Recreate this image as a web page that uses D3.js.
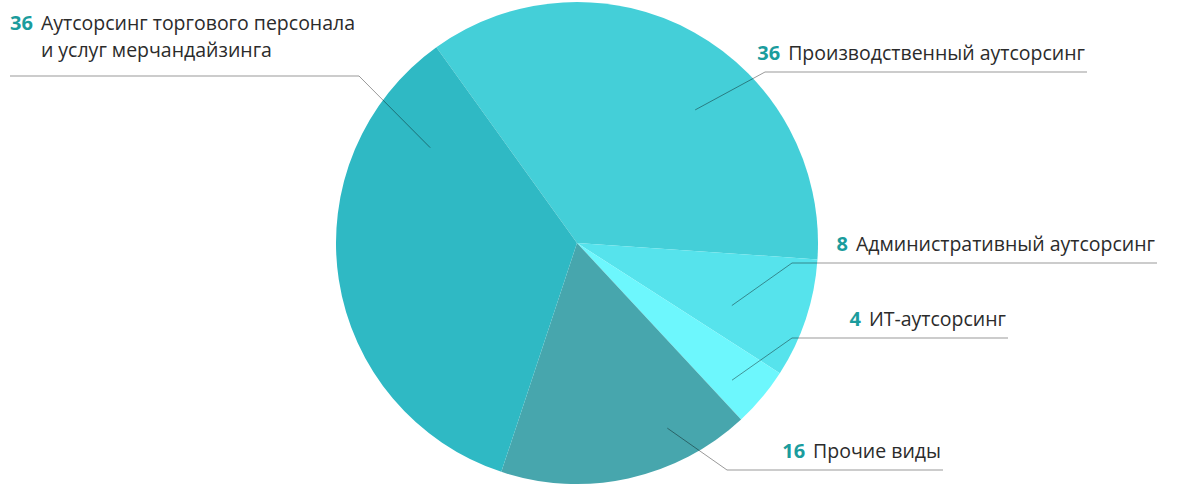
<!DOCTYPE html>
<meta charset="utf-8">
<style>

body {
  margin: 0;
  background: #fff;
}

text {
  font-family: "Open Sans", sans-serif;
  font-size: 19.5px;
  fill: #2b2b2b;
}

.num {
  font-weight: bold;
  font-size: 20px;
  fill: #1b9c9d;
}

.leader {
  fill: none;
  stroke: #000;
  stroke-opacity: .4;
  stroke-width: 1;
}

</style>
<svg width="1200" height="493"></svg>
<script src="https://d3js.org/d3.v7.min.js"></script>
<script>

// slices, clockwise from the upper-left boundary
var names = [
  "Производственный аутсорсинг",
  "Административный аутсорсинг",
  "ИТ-аутсорсинг",
  "Прочие виды",
  "Аутсорсинг торгового персонала|и услуг мерчандайзинга"
];
var labelValues = [36, 8, 4, 16, 36];       // numbers printed next to the labels
var shares = [36, 8, 4, 17, 35];            // slice sizes
var colors = ["#44cfd8", "#56e3ec", "#6df7fd", "#47a6ad", "#2fb9c4"];

// leader lines: tip inside the slice (deg, radius), elbow, end of the horizontal
var leaders = [
  {tip: [41.6, 178], elbow: [765, 72],  end: 1087},
  {tip: [112, 167],  elbow: [792, 263], end: 1157},
  {tip: [131.5, 207], elbow: [792, 338], end: 1008},
  {tip: [154, 206],  elbow: [727, 470], end: 943},
  {tip: [-57, 175],  elbow: [359, 76],  end: 10}
];

var svg = d3.select("svg"),
    cx = 577,
    cy = 243,
    radius = 241;

var g = svg.append("g").attr("transform", "translate(" + cx + "," + cy + ")");

var start = -35.7 * Math.PI / 180;

var pie = d3.pie()
    .sort(null)
    .value(function(d) { return d; })
    .startAngle(start)
    .endAngle(start + 2 * Math.PI);

var arc = d3.arc().innerRadius(0).outerRadius(radius);

g.selectAll("path.slice")
  .data(pie(shares))
  .enter().append("path")
    .attr("class", "slice")
    .attr("fill", function(d, i) { return colors[i]; })
    .attr("d", arc);

// leader lines
leaders.forEach(function(l) {
  var a = l.tip[0] * Math.PI / 180;
  var tx = cx + Math.sin(a) * l.tip[1],
      ty = cy - Math.cos(a) * l.tip[1];
  svg.append("path")
    .attr("class", "leader")
    .attr("d", d3.line()([[tx, ty], l.elbow, [l.end, l.elbow[1]]]));
});

// labels: right-hand ones end where their line ends, the left one starts at it
names.forEach(function(name, i) {
  var l = leaders[i];
  var lines = name.split("|");
  if (lines.length === 1) {
    var t = svg.append("text")
        .attr("x", l.end - 2)
        .attr("y", l.elbow[1] - 12)
        .attr("text-anchor", "end");
    t.append("tspan").attr("class", "num").text(labelValues[i]);
    t.append("tspan").attr("dx", 8).text(lines[0]);
  } else {
    var t1 = svg.append("text")
        .attr("x", l.end)
        .attr("y", 30);
    t1.append("tspan").attr("class", "num").text(labelValues[i]);
    var first = t1.append("tspan").attr("dx", 8).text(lines[0]);
    var x2 = first.node().getStartPositionOfChar(0).x;
    svg.append("text")
        .attr("x", x2)
        .attr("y", 57)
        .text(lines[1]);
  }
});

</script>
